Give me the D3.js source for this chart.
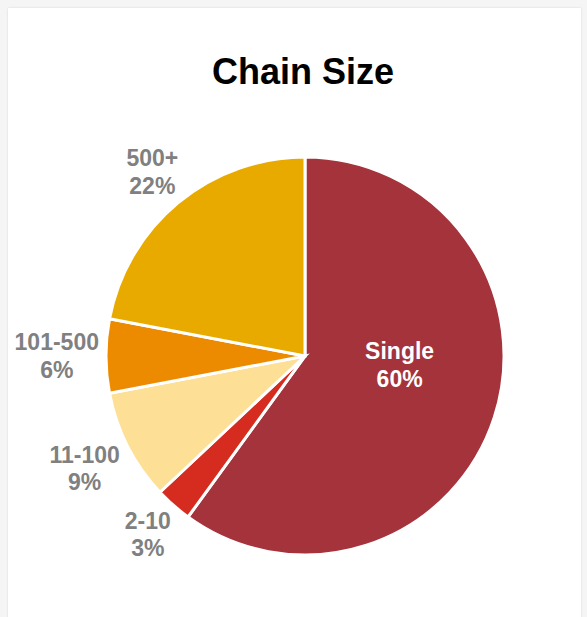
<!DOCTYPE html>
<html>
<head>
<meta charset="utf-8">
<script src="https://cdn.jsdelivr.net/npm/d3@7/dist/d3.min.js"></script>
<style>
  html, body { margin: 0; padding: 0; background: #f5f5f5; }
  body { width: 587px; height: 617px; overflow: hidden; position: relative; }
  #card { position: absolute; left: 8px; top: 8px; width: 573px; height: 640px; background: #fff;
          box-shadow: 0 0 2px rgba(0,0,0,0.12); }
  svg { position: absolute; left: 0; top: 0; }
  text { font-family: "Liberation Sans", Arial, sans-serif; font-weight: bold; }
</style>
</head>
<body>
<div id="card"></div>
<svg id="chart" width="587" height="617"></svg>
<script>
const categories = ["Single", "2-10", "11-100", "101-500", "500+"];
const values = [60, 3, 9, 6, 22];
const colors = ["#a4333b", "#d62b1f", "#fde096", "#ed8b00", "#e9aa00"];
const labelInside = [true, false, false, false, false];
const title = "Chain Size";

const svg = d3.select("#chart");
const cx = 305, cy = 356, r = 199;
const fontSize = 23, lineH = fontSize * 1.2, capH = fontSize * 0.716;

svg.append("text")
  .attr("x", 303).attr("y", 84)
  .attr("text-anchor", "middle")
  .attr("font-size", 36)
  .attr("fill", "#000")
  .text(title);

const data = categories.map((c, i) => ({ cat: c, value: values[i], color: colors[i], inside: labelInside[i] }));
const pie = d3.pie().value(d => d.value).sort(null);
const arcs = pie(data);
const arc = d3.arc().innerRadius(0).outerRadius(r);

const g = svg.append("g").attr("transform", `translate(${cx},${cy})`);

g.selectAll("path.slice").data(arcs).join("path")
  .attr("class", "slice")
  .attr("d", arc)
  .attr("fill", d => d.data.color)
  .attr("stroke", "#fff")
  .attr("stroke-width", 3)
  .attr("stroke-linejoin", "miter");

const fmt = d => `${Math.round(d.value)}%`;

// measure helper
const measure = svg.append("text").attr("font-size", fontSize).attr("visibility", "hidden");
function textW(s) { measure.text(s); return measure.node().getComputedTextLength(); }

arcs.forEach(a => {
  const mid = (a.startAngle + a.endAngle) / 2;
  const ux = Math.sin(mid), uy = -Math.cos(mid);
  const lines = [a.data.cat, fmt(a.data)];
  let x, yBase1;
  if (a.data.inside) {
    const c = d3.arc().innerRadius(r * 0.5).outerRadius(r * 0.5).centroid(a);
    x = c[0];
    yBase1 = c[1] - lineH;
  } else {
    const w = Math.max(...lines.map(textW));
    const hw = w / 2, hh = (lineH + capH) / 2;
    const pad = 7;
    const dist = r + pad + Math.abs(ux) * hw + Math.abs(uy) * hh;
    x = ux * dist;
    const yc = uy * dist;
    yBase1 = yc - hh + capH;
  }
  const t = g.append("text")
    .attr("text-anchor", "middle")
    .attr("font-size", fontSize)
    .attr("fill", a.data.inside ? "#fff" : "#808080");
  lines.forEach((s, i) => {
    t.append("tspan").attr("x", x).attr("y", yBase1 + i * lineH).text(s);
  });
});
measure.remove();
</script>
</body>
</html>
